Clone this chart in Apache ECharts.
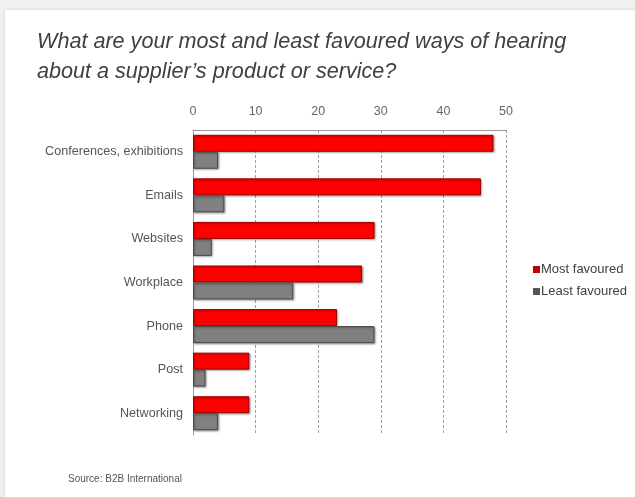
<!DOCTYPE html>
<html>
<head>
<meta charset="utf-8">
<script src="https://cdn.jsdelivr.net/npm/echarts@6/dist/echarts.min.js"></script>
<style>
html,body{margin:0;padding:0;background:#f0f0f0;}
#c{width:635px;height:497px;}
</style>
</head>
<body>
<div id="c"></div>
<script>
var categories = ['Conferences, exhibitions','Emails','Websites','Workplace','Phone','Post','Networking'];
var mostFavoured = [48, 46, 29, 27, 23, 9, 9];
var leastFavoured = [4, 5, 3, 16, 29, 2, 4];
var seriesNames = ['Most favoured', 'Least favoured'];
var titleText = 'What are your most and least favoured ways of hearing\nabout a supplier\u2019s product or service?';
var sourceText = 'Source: B2B International';

var chart = echarts.init(document.getElementById('c'));
chart.setOption({
  backgroundColor: '#f0f0f0',
  animation: false,
  graphic: [
    {type:'rect', shape:{x:5,y:10,width:630,height:487}, style:{fill:'#ffffff', shadowBlur:4, shadowColor:'rgba(0,0,0,0.12)'}, z:-10},
    {type:'text', left:37, top:27, style:{text:titleText, font:'italic 21.6px "Liberation Sans", Arial, sans-serif', fill:'#404040', lineHeight:30}},
    {type:'text', left:68, top:474, style:{text:sourceText, font:'10px "Liberation Sans", Arial, sans-serif', fill:'#555555'}}
  ],
  legend: {
    orient: 'vertical',
    left: 528,
    top: 258,
    itemWidth: 7,
    itemHeight: 7,
    itemGap: 9,
    icon: 'rect',
    itemStyle: {borderWidth:0, shadowBlur:0, shadowOffsetX:0, shadowOffsetY:0},
    textStyle: {fontFamily:'"Liberation Sans", Arial, sans-serif', fontSize:13, color:'#404040', padding:[0,0,0,-4]},
    data: [
      {name: seriesNames[0], itemStyle:{color:'#c00000'}},
      {name: seriesNames[1], itemStyle:{color:'#555555'}}
    ]
  },
  grid: {left:193, top:130, right:129, bottom:62},
  xAxis: {
    type:'value', position:'top', min:0, max:50, interval:10,
    axisLine:{show:true, lineStyle:{color:'#999999'}},
    axisTick:{show:false},
    axisLabel:{color:'#666666', fontSize:12.5, fontFamily:'"Liberation Sans", Arial, sans-serif', margin:12},
    splitLine:{show:true, lineStyle:{color:'#a0a0a0', type:[3,2]}}
  },
  yAxis: {
    type:'category', inverse:true, data:categories,
    axisLine:{show:true, lineStyle:{color:'#999999'}},
    axisTick:{show:false},
    axisLabel:{color:'#555555', fontSize:12.6, fontFamily:'"Liberation Sans", Arial, sans-serif', margin:10}
  },
  series: [
    {
      name: seriesNames[0], type:'bar', data: mostFavoured,
      barGap:'0%', barCategoryGap:'22%',
      itemStyle:{color:'#ff0000', borderColor:'#a00000', borderWidth:1, shadowColor:'rgba(0,0,0,0.35)', shadowBlur:2, shadowOffsetX:1, shadowOffsetY:1}
    },
    {
      name: seriesNames[1], type:'bar', data: leastFavoured,
      itemStyle:{color:'#808080', borderColor:'#4a4a4a', borderWidth:1, shadowColor:'rgba(0,0,0,0.35)', shadowBlur:2, shadowOffsetX:1, shadowOffsetY:1}
    }
  ]
});
</script>
</body>
</html>
